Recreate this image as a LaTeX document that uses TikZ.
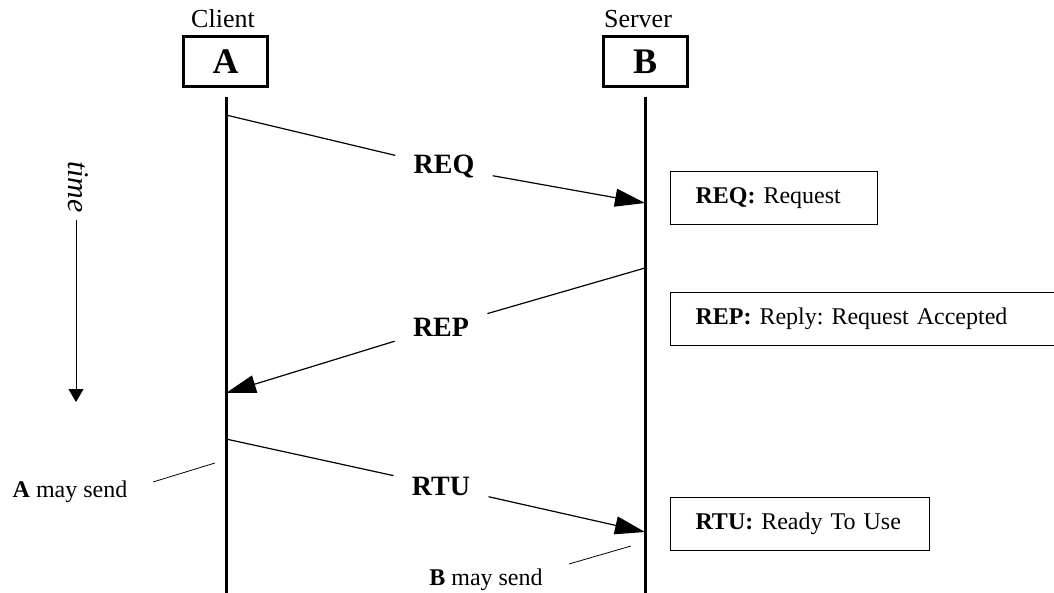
\documentclass[tikz,border=0pt]{standalone}
\usepackage{fontspec}
\setmainfont{Liberation Serif}
\frenchspacing
\usetikzlibrary{arrows.meta,positioning}
\tikzset{
  ent/.style={draw,line width=1.5pt,minimum width=42pt,minimum height=25pt,inner sep=0pt,
              font=\fontsize{18}{20}\selectfont\bfseries},
  life/.style={line width=1.5pt},
  msg/.style={line width=0.6pt},
  marr/.style={msg,-{Triangle[length=15pt,width=9pt]}},
  mlbl/.style={font=\fontsize{14}{16}\selectfont\bfseries,inner xsep=9pt,inner ysep=4pt},
  desc/.style={draw,line width=0.5pt,anchor=west,minimum height=26.5pt,inner xsep=12.5pt,
               align=left,font=\fontsize{12}{14}\selectfont},
}
\begin{document}
\begin{tikzpicture}[x=0.5pt,y=-0.5pt,
  hdr/.style={font=\fontsize{13}{15}\selectfont,inner sep=1pt},
  note/.style={font=\fontsize{12}{14}\selectfont},
  tarr/.style={line width=0.5pt,-{Triangle[length=6.5pt,width=7.5pt]}}]
\useasboundingbox (0,0) rectangle (1054,593);
% entities
\node[hdr] (cli) at (223,19) {Client};
\node[hdr] (srv) at (638,19) {Server};
\node[ent] (A) at (225.5,62) {A};
\node[ent] (B) at (645,62) {B};
% lifelines
\coordinate (A0) at (226,97);  \coordinate (A1) at (226,594);
\coordinate (B0) at (645,97);  \coordinate (B1) at (645,594);
\draw[life] (A0) -- (A1);
\draw[life] (B0) -- (B1);
% time axis
\node[rotate=-90,font=\fontsize{15}{17}\selectfont\itshape] (tm) at (78,187) {time};
\coordinate (tend) at (76,402);
\draw[tarr] (tm.east -| tend) -- (tend);
% messages
\coordinate (qa) at (226,115);  \coordinate (qb) at (645,203);
\coordinate (pb) at (645,268);  \coordinate (pa) at (226,393);
\coordinate (ua) at (226,439);  \coordinate (ub) at (645,532);
\node[mlbl] (lreq) at (444,167) {REQ};
\node[mlbl] (lrep) at (441,327) {REP};
\node[mlbl] (lrtu) at (441,486) {RTU};
\draw[msg] (qa) -- (lreq);  \draw[marr] (lreq) -- (qb);
\draw[msg] (pb) -- (lrep);  \draw[marr] (lrep) -- (pa);
\draw[msg] (ua) -- (lrtu);  \draw[marr] (lrtu) -- (ub);
% legend
\node[desc,text width=78.5pt] (dreq) at (670,198.5) {\textbf{REQ:} Request};
\node[desc,text width=168pt] (drep) at (670,318.5) {\textbf{REP:} Reply: Request Accepted};
\node[desc,text width=104.5pt] (drtu) at (670,524) {\textbf{RTU:} Ready To Use};
% who may send
\node[note] (asend) at (70,492) {\textbf{A} may send};
\node[note] (bsend) at (486,580) {\textbf{B} may send};
\coordinate (an1) at (153,482);  \coordinate (an2) at (215,463);
\coordinate (bn1) at (569,564);  \coordinate (bn2) at (631,546);
\draw[line width=0.4pt] (an1) -- (an2);
\draw[line width=0.4pt] (bn1) -- (bn2);
\end{tikzpicture}
\end{document}
